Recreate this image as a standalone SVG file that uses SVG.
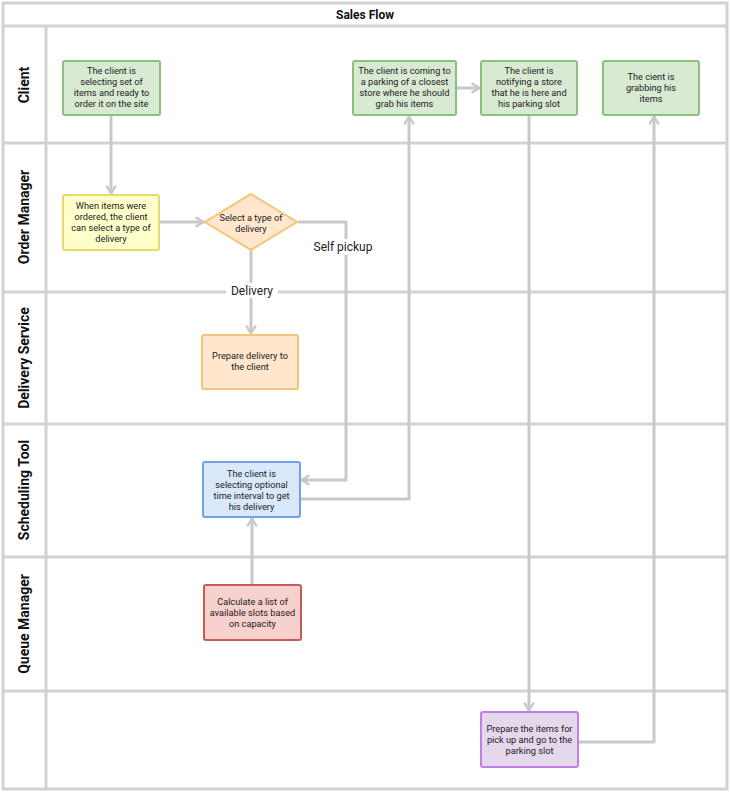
<svg xmlns="http://www.w3.org/2000/svg" width="730" height="792" viewBox="0 0 730 792">
<style>
.lane{fill:none;stroke:#d2d2d6;stroke-width:3}
.lt{font-family:Roboto,"Liberation Sans",sans-serif;font-weight:bold;font-size:14px;fill:#111;text-anchor:middle}
.tt{font-family:Roboto,"Liberation Sans",sans-serif;font-weight:bold;font-size:12px;fill:#111;text-anchor:middle}
.nt{font-family:Roboto,"Liberation Sans",sans-serif;font-size:9.2px;fill:#222;text-anchor:middle}
.el{font-family:Roboto,"Liberation Sans",sans-serif;font-size:12px;fill:#222;text-anchor:middle}
.c{fill:none;stroke:#c8c8cd;stroke-width:3;stroke-linejoin:round}
.g{fill:#d9ead3;stroke:#8cc17a;stroke-width:2}
.y{fill:#ffffcc;stroke:#e8da6a;stroke-width:2}
.o{fill:#ffe6cc;stroke:#f3c576;stroke-width:2}
.b{fill:#dae8fc;stroke:#6fa3e8;stroke-width:2}
.r{fill:#f8d0ce;stroke:#c85a56;stroke-width:2}
.p{fill:#e6d8ec;stroke:#c27de6;stroke-width:2}
</style>
<defs>
<marker id="ah" viewBox="0 0 10 10" refX="9" refY="5" markerWidth="12" markerHeight="12" markerUnits="userSpaceOnUse" orient="auto">
<path d="M2,1 L8.5,5 L2,9" fill="none" stroke="#c8c8cd" stroke-width="2"/>
</marker>
</defs>
<rect width="730" height="792" fill="#fff"/>
<g id="pool">
<rect class="lane" x="3" y="3" width="724" height="786"/>
<line class="lane" x1="3" y1="26" x2="727" y2="26"/>
<line class="lane" x1="46" y1="26" x2="46" y2="789"/>
<line class="lane" x1="3" y1="143" x2="727" y2="143"/>
<line class="lane" x1="3" y1="292" x2="727" y2="292"/>
<line class="lane" x1="3" y1="424" x2="727" y2="424"/>
<line class="lane" x1="3" y1="557" x2="727" y2="557"/>
<line class="lane" x1="3" y1="691" x2="727" y2="691"/>
<text class="tt" x="365" y="19">Sales Flow</text>
<text class="lt" transform="translate(29,85) rotate(-90)">Client</text>
<text class="lt" transform="translate(29,217) rotate(-90)">Order Manager</text>
<text class="lt" transform="translate(29,358) rotate(-90)">Delivery Service</text>
<text class="lt" transform="translate(29,490) rotate(-90)">Scheduling Tool</text>
<text class="lt" transform="translate(29,624) rotate(-90)">Queue Manager</text>
</g>
<g id="connectors">
<path class="c" d="M111,116 V194" marker-end="url(#ah)"/>
<path class="c" d="M160,222 H204" marker-end="url(#ah)"/>
<path class="c" d="M251,251 V334" marker-end="url(#ah)"/>
<path class="c" d="M298,222 H346 V480 H301" marker-end="url(#ah)"/>
<path class="c" d="M301,499 H409 V116" marker-end="url(#ah)"/>
<path class="c" d="M457,88 H480" marker-end="url(#ah)"/>
<path class="c" d="M529,116 V711" marker-end="url(#ah)"/>
<path class="c" d="M579,742 H654 V116" marker-end="url(#ah)"/>
<path class="c" d="M252,584 V518" marker-end="url(#ah)"/>
<rect x="226" y="283" width="52" height="15" fill="#fff"/>
<text class="el" x="252" y="295">Delivery</text>
<rect x="312" y="239" width="64" height="16" fill="#fff"/>
<text class="el" x="343" y="251">Self pickup</text>
</g>
<g id="n1">
<rect class="g" x="63" y="61" width="97" height="54" rx="2"/>
<text class="nt" x="111.5" y="74">The client is</text>
<text class="nt" x="111.5" y="85">selecting set of</text>
<text class="nt" x="111.5" y="96">items and ready to</text>
<text class="nt" x="111.5" y="107">order it on the site</text>
</g>
<g id="n2">
<rect class="g" x="353" y="61" width="103" height="54" rx="2"/>
<text class="nt" x="404.5" y="74">The client is coming to</text>
<text class="nt" x="404.5" y="85">a parking of a closest</text>
<text class="nt" x="404.5" y="96">store where he should</text>
<text class="nt" x="404.5" y="107">grab his items</text>
</g>
<g id="n3">
<rect class="g" x="481" y="61" width="96" height="54" rx="2"/>
<text class="nt" x="529" y="74">The client is</text>
<text class="nt" x="529" y="85">notifying a store</text>
<text class="nt" x="529" y="96">that he is here and</text>
<text class="nt" x="529" y="107">his parking slot</text>
</g>
<g id="n4">
<rect class="g" x="603" y="61" width="96" height="54" rx="2"/>
<text class="nt" x="651" y="80">The cient is</text>
<text class="nt" x="651" y="91">grabbing his</text>
<text class="nt" x="651" y="102">items</text>
</g>
<g id="n5">
<rect class="y" x="63" y="195" width="96" height="55" rx="2"/>
<text class="nt" x="111" y="209">When items were</text>
<text class="nt" x="111" y="220">ordered, the client</text>
<text class="nt" x="111" y="231">can select a type of</text>
<text class="nt" x="111" y="242">delivery</text>
</g>
<g id="n6">
<polygon class="o" points="251,194 297,222 251,250 205,222"/>
<text class="nt" x="251" y="221">Select a type of</text>
<text class="nt" x="251" y="232">delivery</text>
</g>
<g id="n7">
<rect class="o" x="202" y="335" width="96" height="54" rx="2"/>
<text class="nt" x="250" y="359">Prepare delivery to</text>
<text class="nt" x="250" y="370">the client</text>
</g>
<g id="n8">
<rect class="b" x="203" y="462" width="97" height="55" rx="2"/>
<text class="nt" x="251.5" y="477">The client is</text>
<text class="nt" x="251.5" y="488">selecting optional</text>
<text class="nt" x="251.5" y="499">time interval to get</text>
<text class="nt" x="251.5" y="510">his delivery</text>
</g>
<g id="n9">
<rect class="r" x="204" y="585" width="97" height="55" rx="2"/>
<text class="nt" x="252.5" y="605">Calculate a list of</text>
<text class="nt" x="252.5" y="616">available slots based</text>
<text class="nt" x="252.5" y="627">on capacity</text>
</g>
<g id="n10">
<rect class="p" x="481" y="712" width="97" height="55" rx="2"/>
<text class="nt" x="529.5" y="732">Prepare the items for</text>
<text class="nt" x="529.5" y="743">pick up and go to the</text>
<text class="nt" x="529.5" y="754">parking slot</text>
</g>
</svg>
